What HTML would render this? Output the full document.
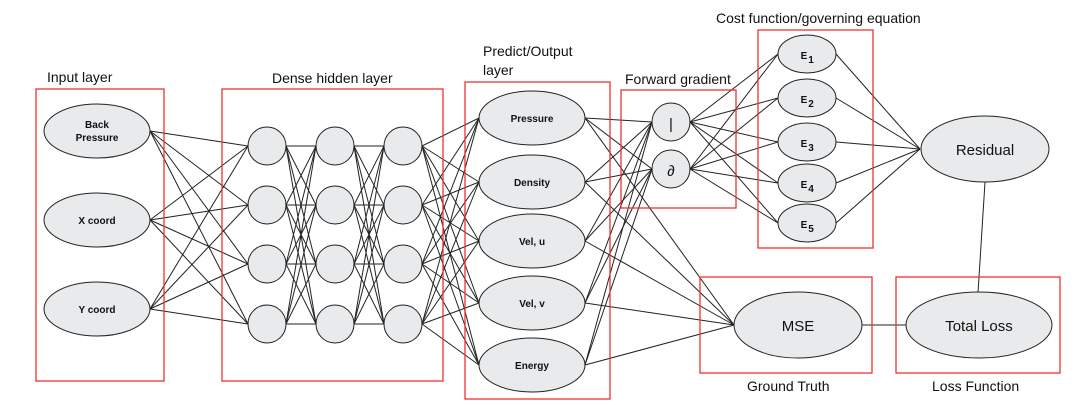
<!DOCTYPE html>
<html><head><meta charset="utf-8"><style>
html,body{margin:0;padding:0;background:#fff;width:1077px;height:405px;overflow:hidden}
svg{display:block}
.l{font-family:"Liberation Sans","DejaVu Sans",sans-serif;font-size:14px;fill:#111}
.b{font-family:"Liberation Sans",sans-serif;font-size:10px;font-weight:bold;fill:#111;text-anchor:middle}
.m{font-family:"Liberation Sans",sans-serif;font-size:15px;fill:#111;text-anchor:middle}
</style></head><body>
<svg id="s" width="1077" height="405" xmlns="http://www.w3.org/2000/svg">
<g id="lines" stroke="#222" stroke-width="1" fill="none"></g>
<g fill="none" stroke="#ee3333" stroke-width="1.3">
<rect x="36" y="89" width="128" height="292"/>
<rect x="222" y="89" width="221" height="292"/>
<rect x="465" y="82" width="145" height="317"/>
<rect x="621" y="90" width="115" height="118"/>
<rect x="758" y="30" width="115" height="218"/>
<rect x="700" y="277" width="172" height="96"/>
<rect x="896" y="277" width="164" height="96"/>
</g>
<g id="nodes" fill="#e8eaeb" stroke="#222" stroke-width="1"></g>
<g id="txt"></g>
<text class="l" x="47" y="82">Input layer</text>
<text class="l" x="272" y="83">Dense hidden layer</text>
<text class="l" x="483" y="56">Predict/Output</text>
<text class="l" x="483" y="75">layer</text>
<text class="l" x="625" y="84">Forward gradient</text>
<text class="l" x="716" y="23">Cost function/governing equation</text>
<text class="l" x="747" y="391">Ground Truth</text>
<text class="l" x="932" y="391">Loss Function</text>
</svg>
<script>
var NS="http://www.w3.org/2000/svg";
function el(p,t,a){var e=document.createElementNS(NS,t);for(var k in a)e.setAttribute(k,a[k]);document.getElementById(p).appendChild(e);return e;}
function ln(x1,y1,x2,y2){el("lines","line",{x1:x1,y1:y1,x2:x2,y2:y2});}
var inp=[131,220,309], hc=[267,335,403], hr=[146,205,264,324], out=[118,182,241,303,365], g=[122,169], E=[54,98,142,183,223];
inp.forEach(function(y){hr.forEach(function(h){ln(150,y,248,h);});});
for(var c=0;c<2;c++)hr.forEach(function(a){hr.forEach(function(b){ln(hc[c]+19,a,hc[c+1]-19,b);});});
hr.forEach(function(a){out.forEach(function(b){ln(422,a,479,b);});});
out.forEach(function(o){g.forEach(function(y){ln(585,o,652,y);});ln(585,o,734,325);});
g.forEach(function(y){E.forEach(function(e){ln(690,y,778,e);});});
E.forEach(function(e){ln(836,e,920,149);});
ln(862,325,906,325);ln(985,182,978,293);
var lab=[["Back","Pressure"],["X coord"],["Y coord"]];
inp.forEach(function(y,i){el("nodes","ellipse",{cx:97,cy:y,rx:53,ry:27});
 var t=lab[i]; if(t.length==2){el("txt","text",{"class":"b",x:97,y:y-3}).textContent=t[0];el("txt","text",{"class":"b",x:97,y:y+10}).textContent=t[1];}
 else el("txt","text",{"class":"b",x:97,y:y+4}).textContent=t[0];});
hc.forEach(function(x){hr.forEach(function(y){el("nodes","circle",{cx:x,cy:y,r:19});});});
var on=["Pressure","Density","Vel, u","Vel, v","Energy"];
out.forEach(function(y,i){el("nodes","ellipse",{cx:532,cy:y,rx:53,ry:27});el("txt","text",{"class":"b",x:532,y:y+4}).textContent=on[i];});
g.forEach(function(y,i){el("nodes","circle",{cx:671,cy:y,r:19});var t=el("txt","text",{"class":"m",x:671,y:y+7,"font-size":"20"});t.textContent=i?"∂":"|";});
E.forEach(function(y,i){el("nodes","ellipse",{cx:807,cy:y,rx:29,ry:19});var t=el("txt","text",{"class":"b",x:804,y:y+5,"font-size":"14"});t.textContent="E";var s=el("txt","text",{"class":"b",x:811,y:y+9,"font-size":"6"});s.textContent=String(i+1);});
el("nodes","ellipse",{cx:985,cy:149,rx:64,ry:33});el("txt","text",{"class":"m",x:985,y:155}).textContent="Residual";
el("nodes","ellipse",{cx:798,cy:325,rx:64,ry:33});el("txt","text",{"class":"m",x:798,y:331}).textContent="MSE";
el("nodes","ellipse",{cx:979,cy:325,rx:73,ry:33});el("txt","text",{"class":"m",x:979,y:331}).textContent="Total Loss";
</script>
</body></html>
